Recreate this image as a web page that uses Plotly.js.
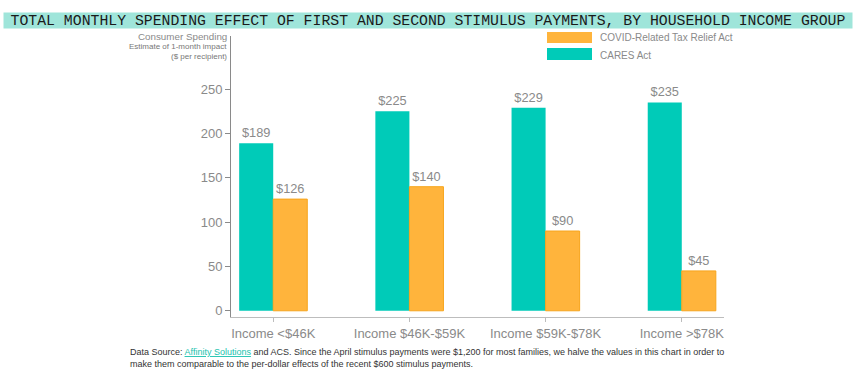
<!DOCTYPE html>
<html>
<head>
<meta charset="utf-8">
<script src="https://cdn.plot.ly/plotly-3.0.1.min.js"></script>
<style>
  html, body { margin: 0; padding: 0; background: #fff; }
  #chart { width: 862px; height: 372px; }
</style>
</head>
<body>
<div id="chart"></div>
<script>
const categories = ["Income <$46K", "Income $46K-$59K", "Income $59K-$78K", "Income >$78K"];
const caresValues = [189, 225, 229, 235];
const covidValues = [126, 140, 90, 45];
const seriesNames = ["CARES Act", "COVID-Related Tax Relief Act"];
const yTicks = [0, 50, 100, 150, 200, 250];

const teal = "#00CBB8";
const orange = "#FFB43C";
const gray = "#8a8a8a";

const traces = [
  {
    type: "bar", name: seriesNames[0], x: categories, y: caresValues,
    marker: { color: teal, line: { color: teal, width: 0 } },
    texttemplate: "$%{y}", textposition: "outside", cliponaxis: false,
    textfont: { family: "Liberation Sans, Arial, sans-serif", size: 12.8, color: gray },
    hoverinfo: "x+y", showlegend: false
  },
  {
    type: "bar", name: seriesNames[1], x: categories, y: covidValues,
    marker: { color: orange, line: { color: "#F7A51C", width: 1 } },
    texttemplate: "$%{y}", textposition: "outside", cliponaxis: false,
    textfont: { family: "Liberation Sans, Arial, sans-serif", size: 12.8, color: gray },
    hoverinfo: "x+y", showlegend: false
  }
];

const layout = {
  width: 862, height: 372,
  margin: { l: 231, r: 138, t: 36, b: 55 },
  paper_bgcolor: "#fff", plot_bgcolor: "#fff",
  barmode: "group", bargap: 0.5, bargroupgap: 0,
  font: { family: "Liberation Sans, Arial, sans-serif", color: gray },
  xaxis: {
    range: [-0.31, 3.31], showgrid: false, zeroline: false,
    showline: true, linecolor: "#bdbdbd", linewidth: 1,
    ticks: "outside", ticklen: 4, tickcolor: "#bdbdbd",
    tickfont: { size: 13, color: gray }
  },
  yaxis: {
    range: [-7, 310], showgrid: false, zeroline: false,
    showline: true, linecolor: "#8a8a8a", linewidth: 1,
    ticks: "outside", ticklen: 5, tickcolor: gray,
    tickvals: yTicks, ticktext: yTicks.map(String),
    tickfont: { size: 13, color: gray }
  },
  shapes: [
    { type: "rect", xref: "paper", yref: "paper", x0: (547-231)/493, x1: (592-231)/493,
      y0: (317-43)/281, y1: (317-32)/281, fillcolor: orange, line: { width: 0 } },
    { type: "rect", xref: "paper", yref: "paper", x0: (547-231)/493, x1: (592-231)/493,
      y0: (317-60)/281, y1: (317-48)/281, fillcolor: teal, line: { width: 0 } }
  ],
  annotations: [
    { xref: "paper", yref: "paper", x: (3-231)/493, y: (317-12)/281, xanchor: "left", yanchor: "top",
      text: "TOTAL MONTHLY SPENDING EFFECT OF FIRST AND SECOND STIMULUS PAYMENTS, BY HOUSEHOLD INCOME GROUP",
      showarrow: false, bgcolor: "#9FE5DA", width: 848, height: 15, align: "center", borderpad: 0,
      font: { family: "Liberation Mono, DejaVu Sans Mono, monospace", size: 14.8, color: "#1a1a1a" } },
    { xref: "paper", yref: "paper", x: -2/493, y: (317-36)/281, xanchor: "right", yanchor: "middle",
      text: "Consumer Spending", showarrow: false, align: "right",
      font: { size: 9.8, color: gray } },
    { xref: "paper", yref: "paper", x: -2/493, y: (317-46)/281, xanchor: "right", yanchor: "middle",
      text: "Estimate of 1-month impact", showarrow: false, align: "right",
      font: { size: 8, color: "#777" } },
    { xref: "paper", yref: "paper", x: -2/493, y: (317-56)/281, xanchor: "right", yanchor: "middle",
      text: "($ per recipient)", showarrow: false, align: "right",
      font: { size: 8, color: "#777" } },
    { xref: "paper", yref: "paper", x: (598-231)/493, y: (317-38)/281, xanchor: "left", yanchor: "middle",
      text: seriesNames[1], showarrow: false, font: { size: 10, color: gray } },
    { xref: "paper", yref: "paper", x: (598-231)/493, y: (317-55)/281, xanchor: "left", yanchor: "middle",
      text: seriesNames[0], showarrow: false, font: { size: 10, color: gray } },
    { xref: "paper", yref: "paper", x: (128-231)/493, y: (317-352)/281, xanchor: "left", yanchor: "middle",
      text: "Data Source: <span style=\"color:#19c2ad;text-decoration:underline\">Affinity Solutions</span> and ACS. Since the April stimulus payments were $1,200 for most families, we halve the values in this chart in order to",
      showarrow: false, align: "left",
      font: { family: "Liberation Sans Narrow, Liberation Sans, Arial, sans-serif", size: 9, color: "#333" } },
    { xref: "paper", yref: "paper", x: (128-231)/493, y: (317-364)/281, xanchor: "left", yanchor: "middle",
      text: "make them comparable to the per-dollar effects of the recent $600 stimulus payments.",
      showarrow: false, align: "left",
      font: { family: "Liberation Sans Narrow, Liberation Sans, Arial, sans-serif", size: 9, color: "#333" } }
  ]
};

Plotly.newPlot("chart", traces, layout, { displayModeBar: false, staticPlot: true });
</script>
</body>
</html>
